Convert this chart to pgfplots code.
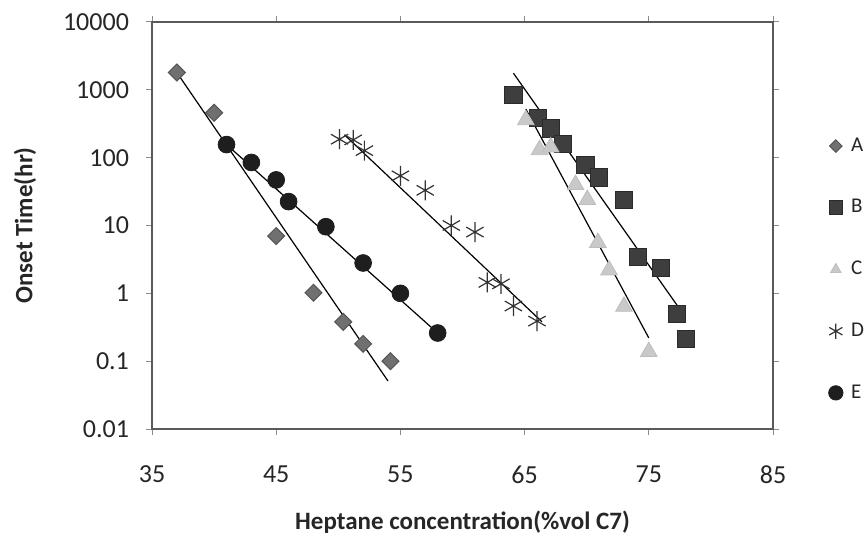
\documentclass[border=0pt]{standalone}
\usepackage{fontspec}
\setmainfont{Carlito}
\usepackage{pgfplots}
\pgfplotsset{compat=1.18}

\definecolor{fillA}{HTML}{707070}
\definecolor{edgeA}{HTML}{555555}
\definecolor{fillB}{HTML}{3E3E3E}
\definecolor{edgeB}{HTML}{2A2A2A}
\definecolor{fillC}{HTML}{C9C9C9}
\definecolor{edgeC}{HTML}{BDBDBD}
\definecolor{lineD}{HTML}{333333}
\definecolor{fillE}{HTML}{1E1E1E}
\definecolor{frame}{HTML}{5A5A5A}

\begin{document}
\begin{tikzpicture}
\begin{axis}[
  at={(0,0)}, anchor=south west,
  scale only axis,
  width=310.5pt, height=203.5pt,
  ymode=log,
  xmin=35, xmax=85, ymin=0.01, ymax=10000,
  xtick={35,45,55,65,75,85},
  ytick={0.01,0.1,1,10,100,1000,10000},
  yticklabels={0.01,0.1,1,10,100,1000,10000},
  yminorticks=false,
  tick align=outside,
  major tick length=3pt,
  tick style={color=black!45, line width=0.5pt},
  axis line style={draw=frame, line width=0.7pt},
  /pgf/number format/assume math mode=true,
  tick label style={font=\fontsize{13}{15}\selectfont, text=black!85},
  xticklabel style={yshift=-12pt},
  yticklabel style={xshift=-5pt},
  xlabel={Heptane concentration(\%vol C7)},
  ylabel={Onset Time(hr)},
  label style={font=\bfseries\fontsize{12.5}{15}\selectfont, text=black!85},
  xlabel style={at={(axis description cs:0.5,-0.2285)}, anchor=center},
  ylabel style={at={(axis description cs:-0.2045,0.5)}, anchor=center},
  legend cell align=left,
  legend style={
    draw=none, fill=none, inner sep=0pt,
    at={(axis description cs:1.087,0.392)}, anchor=west,
    font=\fontsize{10.5}{12}\selectfont,
    row sep=22.6pt,
    nodes={inner sep=0pt, text=black!85},
  },
  legend image code/.code={%
    \path (0pt,0pt) (11.5pt,0pt);
    \draw[#1] plot coordinates {(4pt,0pt)};},
]

% measured onset times for the five samples
\addplot[only marks, mark=square*, mark size=3pt,
  mark options={rotate=45, fill=fillA, draw=edgeA, line width=0.5pt},
  legend image post style={mark size=2.2pt}]
  coordinates {(37,1800)(40,460)(45,7.0)(48,1.02)(50.4,0.38)(52,0.18)(54.2,0.10)};
\addlegendentry{A}

\addplot[only marks, mark=square*, mark size=4.3pt,
  mark options={fill=fillB, draw=edgeB, line width=0.5pt},
  legend image post style={mark size=3.4pt}]
  coordinates {(64.1,840)(66.1,380)(67.1,270)(68.1,160)(69.9,79)(71,51)
               (73,24)(74.1,3.4)(76,2.35)(77.3,0.50)(78,0.21)};
\addlegendentry{B}

\addplot[only marks, mark=triangle*, mark size=4.8pt,
  mark options={fill=fillC, draw=edgeC, line width=0.4pt},
  legend image post style={mark size=3pt}]
  coordinates {(65.1,360)(66.2,130)(67.1,143)(69.1,40)(70.05,24)(70.9,5.6)
               (71.8,2.2)(73,0.64)(75,0.138)};
\addlegendentry{C}

\addplot[only marks, mark=asterisk, mark size=5pt,
  mark options={draw=lineD, line width=0.6pt},
  legend image post style={mark size=3.8pt}]
  coordinates {(50.1,187)(51.2,183)(52.1,127)(55,54)(57,33)(59.1,10)(61,8)
               (62,1.45)(63.1,1.38)(64.1,0.65)(66,0.39)};
\addlegendentry{D}

\addplot[only marks, mark=*, mark size=4.2pt,
  mark options={fill=fillE, draw=fillE},
  legend image post style={mark size=3.6pt}]
  coordinates {(41,156)(43,85)(45,47)(46,22.5)(49,9.6)(52,2.8)(55,1.0)(58,0.26)};
\addlegendentry{E}

% exponential trend lines
\addplot[forget plot, black, line width=0.6pt] coordinates {(37,1800)(54.0,0.051)};
\addplot[forget plot, black, line width=0.6pt] coordinates {(64.1,1760)(77.9,0.46)};
\addplot[forget plot, black, line width=0.6pt] coordinates {(65.1,520)(75,0.22)};
\addplot[forget plot, black, line width=0.6pt] coordinates {(50.5,217)(66.4,0.38)};
\addplot[forget plot, black, line width=0.6pt] coordinates {(41,156)(58,0.26)};
\end{axis}
\pgfresetboundingbox
\path[use as bounding box] (-76pt,-55pt) rectangle (356.5pt,214.5pt);
\end{tikzpicture}
\end{document}
